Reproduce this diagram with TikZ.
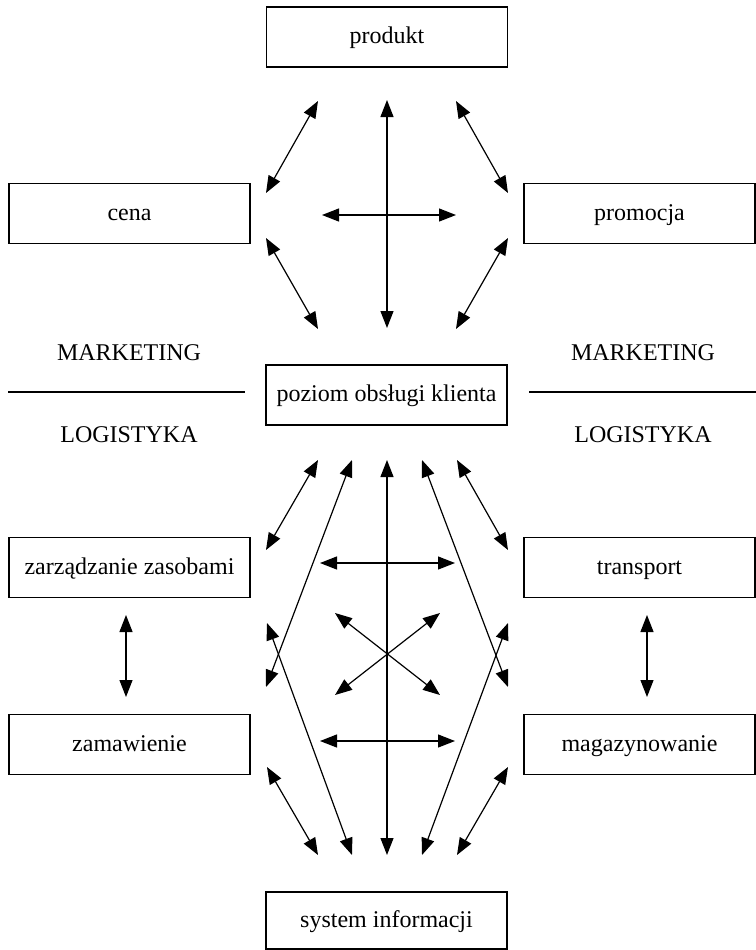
\documentclass[tikz,border=0pt]{standalone}
\usepackage{fontspec}
\setmainfont{Liberation Serif}
\usetikzlibrary{arrows.meta}
\begin{document}
\begin{tikzpicture}[x=0.5pt,y=-0.5pt,
  txt/.style={font=\fontsize{12}{14}\selectfont},
  box/.style={txt, draw, line width=0.6pt, minimum width=120.5pt, minimum height=30pt,
    inner sep=0pt, text height=8.2pt, text depth=1.6pt},
  rightbox/.style={minimum width=115.5pt},
  caption/.style={txt, inner sep=0pt},
  link/.style={{Triangle[length=8.5pt,width=6.5pt]}-{Triangle[length=8.5pt,width=6.5pt]}, line width=0.6pt},
  divider/.style={line width=0.6pt}]
\useasboundingbox (0,0) rectangle (756,950);

% boxes
\node[box] (produkt) at (387,37) {produkt};
\node[box] (cena) at (129.5,213.5) {cena};
\node[box, rightbox] (promocja) at (639.5,213.5) {promocja};
\node[box] (poziom) at (386.5,395) {poziom obsługi klienta};
\node[box] (zasoby) at (129.5,567.5) {zarządzanie zasobami};
\node[box, rightbox] (transport) at (639.5,567.5) {transport};
\node[box] (zamawienie) at (129.5,744.5) {zamawienie};
\node[box, rightbox] (magazyn) at (639.5,744.5) {magazynowanie};
\node[box, minimum height=28.5pt] (system) at (386.5,920.5) {system informacji};

% marketing / logistics split
\node[caption] (mkL) at (129,353) {MARKETING};
\node[caption] (lgL) at (129,435) {LOGISTYKA};
\node[caption] (mkR) at (643,353) {MARKETING};
\node[caption] (lgR) at (643,435) {LOGISTYKA};
\coordinate (sepL1) at (8,392);
\coordinate (sepL2) at (245,392);
\coordinate (sepR1) at (529,392);
\coordinate (sepR2) at (756,392);
\draw[divider] (sepL1) -- (sepL2);
\draw[divider] (sepR1) -- (sepR2);

% arrow ends, upper part
\coordinate (a1s) at (318,101); \coordinate (a1e) at (266,193);
\coordinate (v1s) at (387,100); \coordinate (v1e) at (387,328);
\coordinate (h1s) at (322,215); \coordinate (h1e) at (456,215);
\coordinate (a2s) at (456,101); \coordinate (a2e) at (508,193);
\coordinate (a3s) at (266,238); \coordinate (a3e) at (318,329);
\coordinate (a4s) at (508,238); \coordinate (a4e) at (456,329);

% arrow ends, lower part
\coordinate (b1s) at (318,460); \coordinate (b1e) at (266,550);
\coordinate (b2s) at (352,460); \coordinate (b2e) at (266,687);
\coordinate (v2s) at (387,460); \coordinate (v2e) at (387,855);
\coordinate (b4s) at (422,460); \coordinate (b4e) at (508,687);
\coordinate (b5s) at (457,460); \coordinate (b5e) at (508,550);
\coordinate (h2s) at (320,563); \coordinate (h2e) at (455,563);
\coordinate (x1s) at (335,613); \coordinate (x1e) at (440,695);
\coordinate (x2s) at (440,613); \coordinate (x2e) at (335,695);
\coordinate (h3s) at (320,741); \coordinate (h3e) at (455,741);
\coordinate (c1s) at (267,767); \coordinate (c1e) at (318,855);
\coordinate (c2s) at (267,623); \coordinate (c2e) at (352,855);
\coordinate (c4s) at (508,623); \coordinate (c4e) at (422,855);
\coordinate (c5s) at (508,767); \coordinate (c5e) at (457,855);
\coordinate (ls) at (126,615); \coordinate (le) at (126,697);
\coordinate (rs) at (647,615); \coordinate (re) at (647,697);

% two-way arrows
\foreach \p in {a1,v1,h1,a2,a3,a4,b1,b2,v2,b4,b5,h2,x1,x2,h3,c1,c2,c4,c5}
  \draw[link] (\p s) -- (\p e);
\draw[link] (ls) -- (le);
\draw[link] (rs) -- (re);
\end{tikzpicture}
\end{document}
